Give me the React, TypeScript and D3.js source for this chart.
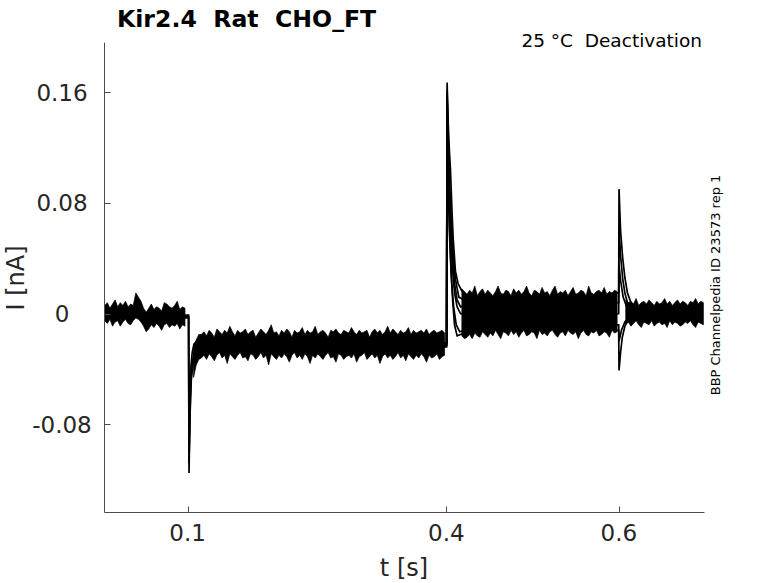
import React from 'react';
import * as d3 from 'd3';

// ---------------- data (current in pA, time in s) ----------------
const xTickValues = [0.1, 0.4, 0.6];
const xTickLabels = ['0.1', '0.4', '0.6'];
const yTickValues = [-0.08, 0, 0.08, 0.16];
const yTickLabels = ['-0.08', '0', '0.08', '0.16'];

// Noise envelope of the overlapping sweeps, sampled every 3 ms
const segA_start = 0.004;
const segA_hi = [6, 8, 4, 7, 10, 5, 8, 6, 9, 5, 7, 6, 15, 12, 9, 4, 1, 4, 7, 3, 5, 4, 2, 8, 7, 5, 4, 6, 9, 3, 5, 4];
const segA_lo = [-5, -7, -4, -9, -6, -5, -9, -6, -4, -7, -8, -5, -3, -4, -6, -9, -13, -11, -8, -10, -7, -9, -12, -8, -7, -10, -8, -9, -7, -11, -8, -9];

const segB_start = 0.107;
const segB_hi = [
  -24, -19, -15, -15, -13, -16, -12, -14, -17, -11, -13, -15, -12, -14, -9, -13, -16, -12, -14, -13,
  -11, -15, -13, -12, -17, -14, -11, -13, -15, -12, -8, -14, -13, -16, -12, -14, -11, -13, -17, -12,
  -14, -13, -10, -15, -12, -14, -13, -9, -15, -13, -12, -14, -17, -12, -13, -11, -14, -15, -12, -13,
  -14, -10, -13, -15, -12, -14, -13, -12, -17, -13, -11, -14, -12, -15, -13, -9, -14, -11, -13, -15,
  -12, -14, -13, -10, -15, -12, -14, -13, -12, -14, -11, -15, -13, -12, -14, -13, -12, -14,
];
const segB_lo = [
  -46, -37, -33, -32, -30, -33, -29, -31, -34, -30, -28, -32, -30, -36, -29, -31, -33, -30, -28, -32,
  -31, -34, -29, -30, -33, -31, -28, -32, -30, -37, -29, -31, -33, -30, -32, -29, -31, -35, -30, -28,
  -32, -30, -33, -29, -31, -36, -30, -32, -29, -31, -33, -30, -28, -32, -31, -35, -29, -30, -33, -31,
  -30, -32, -29, -35, -31, -30, -28, -33, -31, -29, -32, -30, -36, -31, -29, -32, -30, -33, -31, -28,
  -32, -30, -34, -29, -31, -33, -30, -32, -29, -31, -35, -30, -32, -31, -29, -33, -31, -30,
];

const segC_start = 0.418;
const segC_hi = [
  18, 16, 14, 17, 15, 20, 13, 16, 18, 14, 17, 15, 13, 16, 20, 15, 14, 17, 16, 13,
  18, 15, 17, 14, 16, 20, 15, 13, 17, 16, 14, 19, 15, 16, 13, 17, 20, 14, 16, 15,
  17, 13, 16, 19, 14, 15, 17, 16, 13, 20, 15, 14, 16, 17, 15, 19, 14, 16, 15, 17, 16,
];
const segC_lo = [
  -16, -18, -17, -15, -18, -14, -16, -17, -13, -15, -17, -14, -16, -12, -15, -18, -13, -14, -16, -12,
  -15, -13, -17, -14, -12, -16, -15, -13, -14, -18, -12, -15, -14, -16, -13, -12, -15, -17, -14, -13,
  -16, -12, -14, -15, -13, -18, -14, -12, -15, -16, -13, -14, -12, -16, -15, -13, -14, -17, -12, -14, -13,
];

const segD_start = 0.608;
const segD_hi = [10, 8, 9, 7, 11, 6, 8, 9, 7, 10, 8, 6, 9, 7, 8, 11, 7, 9, 6, 8, 10, 7, 9, 8, 6, 9, 8, 11, 7, 9, 8];
const segD_lo = [-8, -6, -9, -7, -5, -8, -10, -6, -7, -8, -5, -9, -7, -6, -8, -7, -10, -5, -8, -6, -7, -9, -8, -6, -7, -5, -8, -10, -6, -7, -8];

// Transients of individual sweeps: [t (s), I (pA)]
const sweeps01: [number, number][][] = [
  [[0.097, -2], [0.1012, -2], [0.1014, -60], [0.1017, -115], [0.1022, -95], [0.1029, -70], [0.1039, -50], [0.1054, -36], [0.1074, -28], [0.1104, -24], [0.1134, -22]],
  [[0.097, -1], [0.1012, -1], [0.1015, -70], [0.1017, -108], [0.1022, -80], [0.1029, -55], [0.1039, -38], [0.1054, -28], [0.1074, -22], [0.1104, -20]],
  [[0.097, -3], [0.1012, -3], [0.1016, -90], [0.1019, -100], [0.1024, -85], [0.1034, -62], [0.1044, -47], [0.1064, -35], [0.1094, -28], [0.1134, -25]],
];

const sweeps04: [number, number][][] = [
  [[0.397, -23], [0.4003, -23], [0.4007, 100], [0.4009, 167], [0.402, 140], [0.4035, 118], [0.4048, 104], [0.4065, 75], [0.4079, 55], [0.4105, 31], [0.4135, 22], [0.4175, 17], [0.4205, 15]],
  [[0.397, -22], [0.4003, -22], [0.4007, 120], [0.4009, 162], [0.4025, 120], [0.404, 80], [0.4055, 52], [0.4075, 30], [0.4095, 15], [0.4125, 5], [0.4165, 0], [0.4205, 0]],
  [[0.397, -24], [0.4003, -24], [0.4007, 110], [0.4009, 155], [0.402, 110], [0.4035, 70], [0.405, 40], [0.4065, 20], [0.4085, 5], [0.4115, -8], [0.4155, -13], [0.4205, -12]],
  [[0.397, -21], [0.4003, -21], [0.4007, 105], [0.4009, 150], [0.402, 120], [0.4035, 90], [0.4055, 60], [0.4075, 38], [0.4095, 22], [0.4125, 10], [0.4165, 5], [0.4205, 6]],
  [[0.4003, -23], [0.4007, 90], [0.4009, 145], [0.402, 100], [0.4035, 60], [0.4055, 30], [0.4075, 8], [0.4095, -8], [0.4125, -16], [0.4165, -15], [0.4205, -14]],
  [[0.4003, -22], [0.4007, 95], [0.4009, 158], [0.402, 125], [0.4035, 95], [0.4055, 68], [0.4075, 45], [0.4105, 25], [0.4145, 12], [0.4205, 10]],
];

const sweeps06: [number, number][][] = [
  [[0.597, 15], [0.5998, 15], [0.6002, 90], [0.602, 60], [0.6045, 40], [0.607, 26], [0.61, 15], [0.614, 8], [0.62, 3]],
  [[0.597, 8], [0.5998, 8], [0.6002, 62], [0.602, 42], [0.6045, 25], [0.607, 15], [0.61, 8], [0.615, 3], [0.62, 1]],
  [[0.597, 0], [0.5998, 0], [0.6002, 35], [0.602, 24], [0.605, 12], [0.609, 5], [0.615, 1]],
  [[0.597, -8], [0.5998, -8], [0.6002, -20], [0.603, -12], [0.607, -6], [0.612, -2], [0.62, 0]],
  [[0.597, -12], [0.5998, -12], [0.6002, -41], [0.602, -28], [0.604, -17], [0.607, -9], [0.61, -5], [0.615, -2]],
];

// ---------------- chart ----------------
type BandPt = { t: number; hi: number; lo: number };
const STEP = 0.003;
function band(start: number, hi: number[], lo: number[]): BandPt[] {
  return hi.map((h, i) => ({ t: start + i * STEP, hi: h, lo: lo[i] }));
}
const bands = [
  band(segA_start, segA_hi, segA_lo),
  band(segB_start, segB_hi, segB_lo),
  band(segC_start, segC_hi, segC_lo),
  band(segD_start, segD_hi, segD_lo),
];

const W = 778;
const H = 583;
const L = 104.5, R = 704.5, T = 42.7, B = 512.5;
const FONT = 'DejaVu Sans, Verdana, sans-serif';
const TXT = '#262626';

export default function App() {
  const x = d3.scaleLinear().domain([0.0037, 0.6993]).range([L, R]);
  const y = d3.scaleLinear().domain([-0.1436, 0.1958]).range([B, T]);
  const area = d3
    .area<BandPt>()
    .x((d) => x(d.t))
    .y0((d) => y(d.lo / 1000))
    .y1((d) => y(d.hi / 1000));
  const line = d3
    .line<[number, number]>()
    .x((d) => x(d[0]))
    .y((d) => y(d[1] / 1000));
  const allSweeps = [...sweeps01, ...sweeps04, ...sweeps06];

  return (
    <svg width={W} height={H} style={{ position: 'absolute', left: 0, top: 0, background: '#fff' }} fontFamily={FONT}>
      <rect x={0} y={0} width={W} height={H} fill="#fff" />
      {/* traces */}
      <g>
        {bands.map((b, i) => (
          <path key={'b' + i} d={area(b) || ''} fill="#000" stroke="#000" strokeWidth={0.7} />
        ))}
        {allSweeps.map((s, i) => (
          <path key={'s' + i} d={line(s) || ''} fill="none" stroke="#000" strokeWidth={1.7} />
        ))}
      </g>
      {/* axes */}
      <g stroke="#4d4d4d" strokeWidth={1} fill="none">
        <line x1={L} x2={L} y1={T} y2={B} />
        <line x1={L} x2={R} y1={B} y2={B} />
        {xTickValues.map((v) => (
          <line key={'xt' + v} x1={Math.round(x(v)) + 0.5} x2={Math.round(x(v)) + 0.5} y1={B} y2={B - 6} />
        ))}
        {yTickValues.map((v) => (
          <line key={'yt' + v} x1={L} x2={L + 6} y1={Math.round(y(v)) + 0.5} y2={Math.round(y(v)) + 0.5} />
        ))}
      </g>
      <g fill={TXT} fontSize={23}>
        {xTickValues.map((v, i) => (
          <text key={'xl' + v} x={x(v)} y={541} textAnchor="middle">
            {xTickLabels[i]}
          </text>
        ))}
        {yTickValues.map((v, i) => (
          <text key={'yl' + v} x={62} y={y(v) + 8.5} textAnchor="middle">
            {yTickLabels[i]}
          </text>
        ))}
      </g>
      <text x={404} y={576} textAnchor="middle" fontSize={24} fill={TXT}>
        t [s]
      </text>
      <text transform="translate(24,278) rotate(-90)" textAnchor="middle" fontSize={24} fill={TXT}>
        I [nA]
      </text>
      <text x={117} y={27} fontSize={23.6} fontWeight="bold" fill="#000" xmlSpace="preserve" style={{ whiteSpace: 'pre' }}>
        {'Kir2.4  Rat  CHO_FT'}
      </text>
      <text x={702} y={47} textAnchor="end" fontSize={18.5} fill="#000" xmlSpace="preserve" style={{ whiteSpace: 'pre' }}>
        {'25 °C  Deactivation'}
      </text>
      <text transform="translate(720,285) rotate(-90)" textAnchor="middle" fontSize={13} fill="#000">
        BBP Channelpedia ID 23573 rep 1
      </text>
    </svg>
  );
}
